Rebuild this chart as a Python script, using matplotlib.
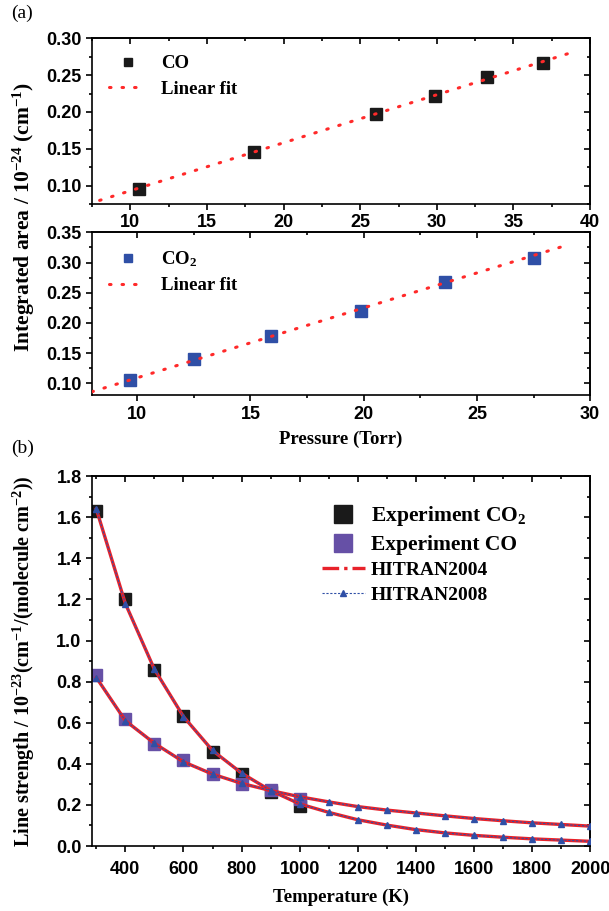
import matplotlib
matplotlib.use("Agg")
import matplotlib.pyplot as plt
from matplotlib.ticker import MultipleLocator
from matplotlib.lines import Line2D

plt.rcParams['font.family'] = ['Liberation Sans', 'DejaVu Sans']
plt.rcParams['font.weight'] = 'bold'
plt.rcParams['mathtext.fontset'] = 'custom'
plt.rcParams['mathtext.rm'] = 'Liberation Serif:bold'
plt.rcParams['mathtext.bf'] = 'Liberation Serif:bold'
plt.rcParams['mathtext.it'] = 'Liberation Serif:bold:italic'
plt.rcParams['axes.linewidth'] = 1.2

SERIF = ['Liberation Serif', 'DejaVu Serif']

# ---------------- Data (a) ----------------
co_pressure = [10.6, 18.1, 26.0, 29.9, 33.3, 36.9]
co_area = [0.095, 0.146, 0.197, 0.221, 0.247, 0.267]
co_fit_x = [8.0, 39.0]
co_fit_y = [0.080, 0.282]

co2_pressure = [9.7, 12.5, 15.9, 19.9, 23.6, 27.5]
co2_area = [0.105, 0.141, 0.178, 0.220, 0.268, 0.307]
co2_fit_x = [8.0, 29.0]
co2_fit_y = [0.086, 0.329]

# ---------------- Data (b) ----------------
exp_T = [300, 400, 500, 600, 700, 800, 900, 1000]
exp_co2 = [1.63, 1.20, 0.855, 0.635, 0.46, 0.35, 0.265, 0.195]
exp_co = [0.83, 0.62, 0.495, 0.42, 0.35, 0.30, 0.275, 0.23]

hitran_T = [300, 400, 500, 600, 700, 800, 900, 1000, 1100, 1200, 1300, 1400,
            1500, 1600, 1700, 1800, 1900, 2000]
hitran_co2 = [1.64, 1.18, 0.86, 0.63, 0.465, 0.355, 0.27, 0.205, 0.164, 0.128,
              0.102, 0.080, 0.064, 0.052, 0.043, 0.035, 0.029, 0.023]
hitran_co = [0.82, 0.61, 0.50, 0.41, 0.35, 0.305, 0.27, 0.24, 0.215, 0.192,
             0.175, 0.161, 0.147, 0.134, 0.123, 0.113, 0.105, 0.097]

RED_DOT = '#ff2a2a'
BLUE = '#2f4fa6'
PURPLE = '#6650a6'
BLACK = '#1a1a1a'
RED = '#e8222a'

fig = plt.figure(figsize=(6.09, 9.11), dpi=100)

L, W = 0.151, 0.818
ax1 = fig.add_axes([L, 0.776, W, 0.182])
ax2 = fig.add_axes([L, 0.566, W, 0.179])
ax3 = fig.add_axes([L, 0.0713, W, 0.406])

TICKSIZE = 13


def style(ax, xmaj, xmin, ymaj, ymin, xpad=3):
    ax.xaxis.set_major_locator(MultipleLocator(xmaj))
    ax.xaxis.set_minor_locator(MultipleLocator(xmin))
    ax.yaxis.set_major_locator(MultipleLocator(ymaj))
    ax.yaxis.set_minor_locator(MultipleLocator(ymin))
    ax.tick_params(which='major', direction='out', length=4.5, width=1.2,
                   labelsize=TICKSIZE, pad=3)
    ax.tick_params(axis='x', which='major', pad=xpad)
    ax.tick_params(which='minor', direction='out', length=2.5, width=1.2)
    for lab in ax.get_xticklabels() + ax.get_yticklabels():
        lab.set_fontweight('bold')
    top = ax.secondary_xaxis('top')
    right = ax.secondary_yaxis('right')
    for sec, loc in ((top, 'x'), (right, 'y')):
        axis = sec.xaxis if loc == 'x' else sec.yaxis
        axis.set_major_locator(MultipleLocator(xmaj if loc == 'x' else ymaj))
        axis.set_minor_locator(MultipleLocator(xmin if loc == 'x' else ymin))
        sec.tick_params(which='major', direction='in', length=4.5, width=1.2,
                        labeltop=False, labelright=False)
        sec.tick_params(which='minor', direction='in', length=2.5, width=1.2)
        if loc == 'x':
            sec.set_xticklabels([])
        else:
            sec.set_yticklabels([])


LEG_A = {'family': SERIF, 'weight': 'bold', 'size': 13.5}

# ---- (a) top: CO ----
ax1.plot(co_pressure, co_area, 's', color=BLACK, ms=8, label='CO', zorder=2)
ax1.plot(co_fit_x, co_fit_y, color=RED_DOT, lw=2.2, ls=(0, (0.5, 3.6)),
         dash_capstyle='round', label='Linear fit', zorder=3)
ax1.set_xlim(7.5, 40)
ax1.set_ylim(0.075, 0.30)
style(ax1, 5, 2.5, 0.05, 0.025)
ax1.legend(loc='upper left', frameon=False, prop=LEG_A,
           handlelength=2.0, markerscale=0.8, borderaxespad=0.5, labelspacing=0.45)

# ---- (a) bottom: CO2 ----
ax2.plot(co2_pressure, co2_area, 's', color=BLUE, ms=8, label='CO$_2$', zorder=2)
ax2.plot(co2_fit_x, co2_fit_y, color=RED_DOT, lw=2.2, ls=(0, (0.5, 3.6)),
         dash_capstyle='round', label='Linear fit', zorder=3)
ax2.set_xlim(8, 30)
ax2.set_ylim(0.08, 0.35)
style(ax2, 5, 2.5, 0.05, 0.025)
ax2.legend(loc='upper left', frameon=False, prop=LEG_A,
           handlelength=2.0, markerscale=0.8, borderaxespad=0.5, labelspacing=0.45)
ax2.set_xlabel('Pressure (Torr)', family=SERIF, fontweight='bold', fontsize=13.5, labelpad=6)

fig.text(0.040, (0.958 + 0.566) / 2, 'Integrated area / 10$^{-24}$ (cm$^{-1}$)',
         rotation=90, ha='center', va='center', family=SERIF, fontweight='bold', fontsize=15.5)

# ---- (b) ----
ax3.plot(exp_T, exp_co2, 's', color=BLACK, ms=9, zorder=2)
ax3.plot(exp_T, exp_co, 's', color=PURPLE, ms=9, zorder=2)
ax3.plot(hitran_T, hitran_co2, '-', color=RED, lw=2.4, zorder=3)
ax3.plot(hitran_T, hitran_co, '-', color=RED, lw=2.4, zorder=3)
ax3.plot(hitran_T, hitran_co2, ls=(0, (2, 1.5)), color=BLUE, lw=0.8, marker='^',
         ms=4, zorder=4)
ax3.plot(hitran_T, hitran_co, ls=(0, (2, 1.5)), color=BLUE, lw=0.8, marker='^',
         ms=4, zorder=4)
ax3.set_xlim(285, 2000)
ax3.set_ylim(0, 1.8)
style(ax3, 200, 100, 0.2, 0.1, xpad=6)
ax3.set_xlabel('Temperature (K)', family=SERIF, fontweight='bold', fontsize=13.5, labelpad=8)

handles = [
    Line2D([], [], ls='none', marker='s', color=BLACK, ms=13),
    Line2D([], [], ls='none', marker='s', color=PURPLE, ms=13),
    Line2D([], [], ls=(0, (5, 1.5, 1, 1.5)), color=RED, lw=2.4),
    Line2D([], [], ls=(0, (2, 1.5)), color=BLUE, lw=0.8, marker='^', ms=5),
]
labels = ['Experiment CO$_2$', 'Experiment CO', 'HITRAN2004', 'HITRAN2008']
leg = ax3.legend(handles, labels, loc='upper left', frameon=False,
                 prop={'family': SERIF, 'weight': 'bold', 'size': 14},
                 handlelength=2.2, handletextpad=0.3, borderaxespad=0, borderpad=0,
                 labelspacing=0.35, bbox_to_anchor=(0.462, 0.925))
for t in leg.get_texts()[:2]:
    t.set_fontsize(15.5)

fig.text(0.040, (0.0713 + 0.4775) / 2,
         'Line strength / 10$^{-23}$(cm$^{-1}$/(molecule cm$^{-2}$))',
         rotation=90, ha='center', va='center', family=SERIF, fontweight='bold', fontsize=14.5)

fig.text(0.018, 0.985, '(a)', family=SERIF, fontweight='normal', fontsize=14, va='center')
fig.text(0.018, 0.508, '(b)', family=SERIF, fontweight='normal', fontsize=14, va='center')

fig.savefig('out.png', dpi=100)
